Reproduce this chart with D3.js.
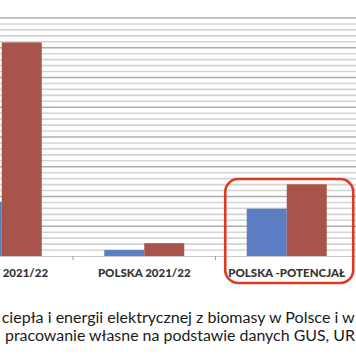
<!DOCTYPE html>
<html><head><meta charset="utf-8">
<script src="https://cdn.jsdelivr.net/npm/d3@7/dist/d3.min.js"></script>
<style>html,body{margin:0;padding:0;background:#fff}svg{display:block}</style>
</head><body>
<svg id="chart" width="356" height="364"></svg>
<script>
// ---- data ----
const categories = ["NIEMCY 2021/22", "POLSKA 2021/22", "POLSKA -POTENCJAŁ"];
const seriesNames = ["Ciepło", "Energia elektryczna"];
const heatValues = [18.2, 2.0, 15.9];
const powerValues = [71.8, 4.3, 24.1];
const yMax = 80;
const majorStep = 10;
const minorStep = 2;
const captionLines = [
  "ciepła i energii elektrycznej z biomasy w Polsce i w",
  "pracowanie własne na podstawie danych GUS, UR"
];
const highlighted = "POLSKA -POTENCJAŁ";

// ---- layout ----
const W = 356, H = 364;
const svg = d3.select("#chart");
const colors = {"Ciepło": "#5b7dc1", "Energia elektryczna": "#a8544b"};

const step = 142.5;
const x0 = d3.scaleBand().domain(categories).range([-69.5, -69.5 + step * categories.length]).padding(0);
const x1 = d3.scaleBand().domain(seriesNames).range([31.25, 111.25]).padding(0);
const y = d3.scaleLinear().domain([0, yMax]).range([256, 18]);

// gridlines
const minorTicks = d3.range(minorStep, yMax + 0.001, minorStep).filter(v => v % majorStep !== 0);
const majorTicks = d3.range(majorStep, yMax + 0.001, majorStep);
svg.append("g").selectAll("line").data(minorTicks).join("line")
  .attr("x1", 0).attr("x2", W)
  .attr("y1", d => y(d)).attr("y2", d => y(d))
  .attr("stroke", "#d4d4d4").attr("stroke-width", 1.6);
svg.append("g").selectAll("line").data(majorTicks).join("line")
  .attr("x1", 0).attr("x2", W)
  .attr("y1", d => y(d)).attr("y2", d => y(d))
  .attr("stroke", "#adadad").attr("stroke-width", 1.6);

// bars
const rows = categories.map((c, i) => ({cat: c, vals: [
  {s: seriesNames[0], v: heatValues[i]},
  {s: seriesNames[1], v: powerValues[i]}
]}));
const g = svg.append("g");
const grp = g.selectAll("g").data(rows).join("g")
  .attr("transform", d => `translate(${x0(d.cat)},0)`);
grp.selectAll("rect").data(d => d.vals).join("rect")
  .attr("x", d => x1(d.s)).attr("width", x1.bandwidth())
  .attr("y", d => y(d.v)).attr("height", d => y(0) - y(d.v))
  .attr("fill", d => colors[d.s]);

// x axis
const xAxis = d3.axisBottom(x0).tickSize(0).tickFormat("");
const ax = svg.append("g").attr("transform", `translate(0,${y(0)})`).call(xAxis);
ax.select(".domain").attr("stroke", "#c8c8c8");
svg.append("g").selectAll("line").data(categories.slice(1)).join("line")
  .attr("x1", d => x0(d)).attr("x2", d => x0(d))
  .attr("y1", y(0)).attr("y2", y(0) + 4)
  .attr("stroke", "#a0a0a0").attr("stroke-width", 1);

// category labels
svg.append("g").selectAll("text").data(categories).join("text")
  .attr("x", d => x0(d) + x0.bandwidth() / 2)
  .attr("y", 277)
  .attr("text-anchor", "middle")
  .attr("font-family", "Lato, 'Open Sans', sans-serif")
  .attr("font-weight", "900")
  .attr("font-size", 11.5)
  .attr("fill", "#333333")
  .text(d => d);

// highlight box
const hx = x0(highlighted) + x0.bandwidth() / 2;
svg.append("rect")
  .attr("x", hx - 61.5).attr("y", 179)
  .attr("width", 128).attr("height", 104)
  .attr("rx", 13).attr("ry", 13)
  .attr("fill", "none").attr("stroke", "#dc3b22").attr("stroke-width", 2.6);

// caption
const capWidths = [353, 350];
svg.append("g").selectAll("text").data(captionLines).join("text")
  .attr("x", (d, i) => i === 0 ? 1.7 : 5)
  .attr("y", (d, i) => 323.3 + i * 17.7)
  .attr("font-family", "Lato, 'Open Sans', sans-serif")
  .attr("font-size", 15.5)
  .attr("fill", "#1a1a1a")
  .attr("textLength", (d, i) => capWidths[i])
  .attr("lengthAdjust", "spacingAndGlyphs")
  .text(d => d);
</script>
</body></html>
